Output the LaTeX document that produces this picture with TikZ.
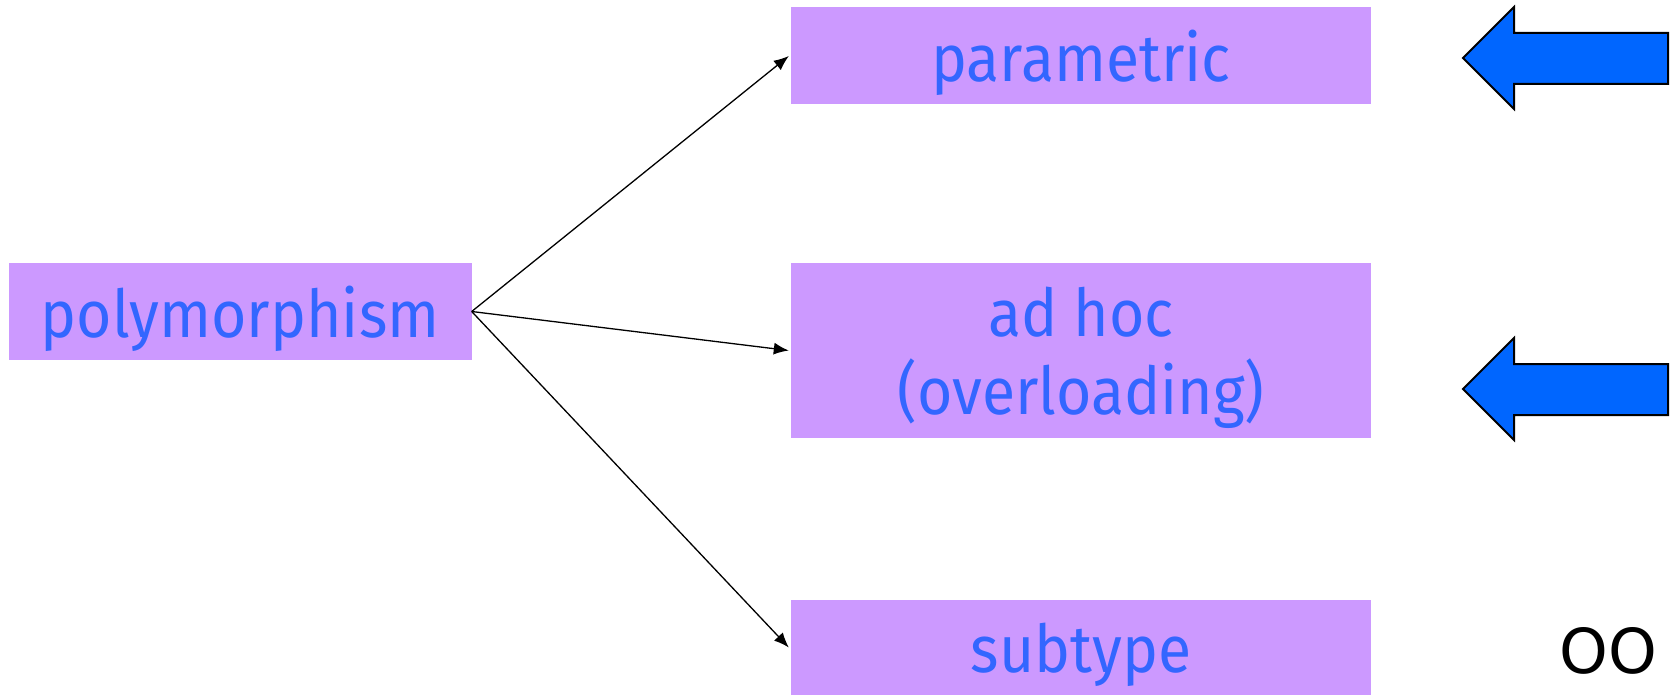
\documentclass[tikz,border=0pt]{standalone}
\usepackage{fontspec}
\setmainfont{Fira Sans}[FakeStretch=0.92]
\newfontfamily\oofont{DejaVu Sans}
\usepackage{tikz}
\usetikzlibrary{arrows.meta,calc,positioning}
\definecolor{lilac}{HTML}{CC99FF}
\definecolor{kindtext}{HTML}{3366FF}
\definecolor{pointer}{HTML}{0066FF}

\begin{document}
\begin{tikzpicture}[x=1pt,y=-1pt,
        kind/.style={rectangle, fill=lilac, text=kindtext, inner sep=0pt, text depth=0pt,
            minimum width=580pt, font=\fontsize{66}{78}\selectfont, align=center},
        link/.style={-{Latex[length=15pt,width=12pt]}, line width=1.3pt, black}]
                \useasboundingbox (0,0) rectangle (1670,695);
                \node[kind, minimum width=463pt, minimum height=97pt] (poly) at (240,311.5) {polymorphism};
                \node[kind, minimum height=97pt] (para) at (1081,56) {parametric};
                \node[kind, minimum height=175pt] (adhoc) at (1081,350.5) {ad hoc\\(overloading)};
                \node[kind, minimum height=95pt] (sub) at (1081,647.5) {subtype};
                \draw[link] (poly.east) -- ([xshift=-2pt]para.west);
                \draw[link] (poly.east) -- ([xshift=-2pt]adhoc.west);
                \draw[link] (poly.east) -- ([xshift=-2pt]sub.west);
                % the two blue pointers on the right
                \foreach \dy in {0,331} {
                    \filldraw[fill=pointer, draw=black, line width=2pt, line join=miter]
                        (1463,58+\dy) -- (1514,7+\dy) -- (1514,33+\dy) -- (1668,33+\dy)
                        -- (1668,84+\dy) -- (1514,84+\dy) -- (1514,109+\dy) -- cycle;
                }
                \node[font=\oofont\fontsize{62}{68}\selectfont, anchor=base] (oo) at (1608,673) {OO};
            \end{tikzpicture}
\end{document}
